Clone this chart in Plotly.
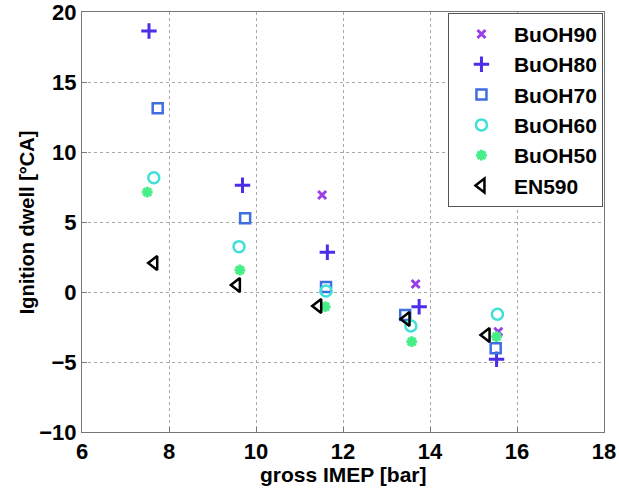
import plotly.graph_objects as go

# Gross IMEP [bar] and ignition dwell [°CA] per fuel blend
imep_buoh90 = [11.52, 13.67, 15.57]
dwell_buoh90 = [6.93, 0.57, -2.84]

imep_buoh80 = [7.54, 9.69, 11.64, 13.75, 15.53]
dwell_buoh80 = [18.64, 7.62, 2.84, -1.05, -4.8]

imep_buoh70 = [7.74, 9.75, 11.61, 13.43, 15.51]
dwell_buoh70 = [13.12, 5.26, 0.36, -1.64, -4.02]

imep_buoh60 = [7.65, 9.61, 11.61, 13.56, 15.55]
dwell_buoh60 = [8.16, 3.24, 0.07, -2.43, -1.59]

imep_buoh50 = [7.50, 9.63, 11.59, 13.58, 15.53]
dwell_buoh50 = [7.14, 1.57, -1.05, -3.55, -3.19]

imep_en590 = [7.66, 9.56, 11.43, 13.46, 15.30]
dwell_en590 = [2.07, 0.50, -1.00, -1.93, -3.07]

x_ticks = [6, 8, 10, 12, 14, 16, 18]
y_ticks = [-10, -5, 0, 5, 10, 15, 20]

series = [
    ("BuOH90", imep_buoh90, dwell_buoh90, "x-thin-open", "#9a3ee6", 8, 3),
    ("BuOH80", imep_buoh80, dwell_buoh80, "cross-thin-open", "#4a2ee8", 11, 3),
    ("BuOH70", imep_buoh70, dwell_buoh70, "square-open", "#3f6ee0", 10, 2.5),
    ("BuOH60", imep_buoh60, dwell_buoh60, "circle-open", "#3ee0d8", 11, 2.5),
    ("BuOH50", imep_buoh50, dwell_buoh50, "asterisk-open", "#46ee88", 9, 3),
    ("EN590", imep_en590, dwell_en590, "triangle-left-open", "#000000", 12, 2.5),
]

FONT = "Liberation Sans, Arial, sans-serif"
TITLE_FONT = dict(family=FONT, size=21, color="black", weight="bold")

fig = go.Figure()
for name, xs, ys, sym, col, size, lw in series:
    fig.add_trace(go.Scatter(
        x=xs, y=ys, mode="markers", name=name,
        marker=dict(symbol=sym, size=size, color=col,
                    line=dict(color=col, width=lw)),
    ))

axis_common = dict(
    automargin=False, ticklabeloverflow="allow",
    showgrid=True, gridcolor="#a8a8a8", griddash="dot", gridwidth=1,
    zeroline=False, showline=True, linecolor="#777777", linewidth=1,
    mirror=True, ticks="inside", ticklen=5, tickcolor="#777777",
    tickfont=dict(family=FONT, size=22, color="black", weight="bold"),
)

fig.update_xaxes(range=[6, 18], tickvals=x_ticks, ticklabelstandoff=0, **axis_common)
fig.update_yaxes(range=[-10, 20], tickvals=y_ticks, **axis_common)

# Axis titles
fig.add_annotation(text="gross IMEP [bar]", xref="paper", yref="paper",
                   x=0.5, y=-0.1, xanchor="center", yanchor="middle",
                   showarrow=False, font=TITLE_FONT)
fig.add_annotation(text="Ignition dwell [°CA]", xref="paper", yref="paper",
                   x=-0.105, y=0.5, xanchor="center", yanchor="middle",
                   textangle=-90, showarrow=False, font=dict(TITLE_FONT, size=20))

fig.update_layout(
    width=619, height=492,
    margin=dict(l=82, r=15, t=12, b=60),
    plot_bgcolor="white", paper_bgcolor="white",
    legend=dict(x=0.998, y=0.998, xanchor="right", yanchor="top",
                bgcolor="white", bordercolor="#555555", borderwidth=1,
                font=dict(family=FONT, size=21, color="black", weight="bold"),
                itemwidth=55, tracegroupgap=0),
)

fig.write_html("out.html")
